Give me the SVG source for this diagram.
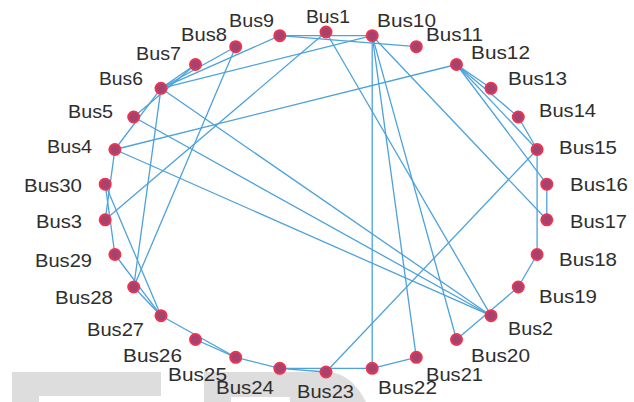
<svg xmlns="http://www.w3.org/2000/svg" width="634" height="402" viewBox="0 0 634 402">
  <style>
    .bg { fill: #ffffff; }
    .panel { fill: #dddddd; }
    .edge { stroke: #4da2da; stroke-width: 1.3; fill: none; }
    .node circle { fill: #a4446e; stroke: #ec3452; stroke-width: 2; }
    .node text { font-family: "Liberation Sans", Arial, sans-serif; font-size: 18.5px; fill: #2e2e2e; }
  </style>

  <rect class="bg" x="0" y="0" width="634" height="402"/>

  <!-- light grey panels along the bottom edge -->
  <path class="panel" d="M12,372 H161 V396 H39 V402 H12 Z"/>
  <path class="panel" d="M204,372 H326 C344,372 357,384 366,402 H290 V397 H231 V402 H204 Z"/>

  <!-- branches -->
  <g id="connectors">
    <line class="edge" x1="326" y1="32" x2="491" y2="315.7"/>        <!-- 1-2 -->
    <line class="edge" x1="326" y1="32" x2="105.2" y2="219.8"/>       <!-- 1-3 -->
    <line class="edge" x1="491" y1="315.7" x2="114.9" y2="149.5"/>    <!-- 2-4 -->
    <line class="edge" x1="105.2" y1="219.8" x2="114.9" y2="149.5"/>  <!-- 3-4 -->
    <line class="edge" x1="491" y1="315.7" x2="133.7" y2="117"/>      <!-- 2-5 -->
    <line class="edge" x1="491" y1="315.7" x2="161" y2="88.3"/>       <!-- 2-6 -->
    <line class="edge" x1="114.9" y1="149.5" x2="161" y2="88.3"/>     <!-- 4-6 -->
    <line class="edge" x1="133.7" y1="117" x2="195.5" y2="64.5"/>     <!-- 5-7 -->
    <line class="edge" x1="161" y1="88.3" x2="195.5" y2="64.5"/>      <!-- 6-7 -->
    <line class="edge" x1="161" y1="88.3" x2="235.7" y2="46.7"/>      <!-- 6-8 -->
    <line class="edge" x1="161" y1="88.3" x2="279.8" y2="35.7"/>      <!-- 6-9 -->
    <line class="edge" x1="161" y1="88.3" x2="372.2" y2="35.7"/>      <!-- 6-10 -->
    <line class="edge" x1="279.8" y1="35.7" x2="416.3" y2="46.7"/>    <!-- 9-11 -->
    <line class="edge" x1="279.8" y1="35.7" x2="372.2" y2="35.7"/>    <!-- 9-10 -->
    <line class="edge" x1="114.9" y1="149.5" x2="456.5" y2="64.5"/>   <!-- 4-12 -->
    <line class="edge" x1="456.5" y1="64.5" x2="491" y2="88.3"/>      <!-- 12-13 -->
    <line class="edge" x1="456.5" y1="64.5" x2="518.3" y2="117"/>     <!-- 12-14 -->
    <line class="edge" x1="456.5" y1="64.5" x2="537.1" y2="149.5"/>   <!-- 12-15 -->
    <line class="edge" x1="456.5" y1="64.5" x2="546.8" y2="184.2"/>   <!-- 12-16 -->
    <line class="edge" x1="518.3" y1="117" x2="537.1" y2="149.5"/>    <!-- 14-15 -->
    <line class="edge" x1="546.8" y1="184.2" x2="546.8" y2="219.8"/>  <!-- 16-17 -->
    <line class="edge" x1="537.1" y1="149.5" x2="537.1" y2="254.5"/>  <!-- 15-18 -->
    <line class="edge" x1="537.1" y1="254.5" x2="518.3" y2="287"/>    <!-- 18-19 -->
    <line class="edge" x1="518.3" y1="287" x2="456.5" y2="339.5"/>    <!-- 19-20 -->
    <line class="edge" x1="372.2" y1="35.7" x2="456.5" y2="339.5"/>   <!-- 10-20 -->
    <line class="edge" x1="372.2" y1="35.7" x2="546.8" y2="219.8"/>   <!-- 10-17 -->
    <line class="edge" x1="372.2" y1="35.7" x2="416.3" y2="357.3"/>   <!-- 10-21 -->
    <line class="edge" x1="372.2" y1="35.7" x2="372.2" y2="368.3"/>   <!-- 10-22 -->
    <line class="edge" x1="416.3" y1="357.3" x2="372.2" y2="368.3"/>  <!-- 21-22 -->
    <line class="edge" x1="537.1" y1="149.5" x2="326" y2="372"/>      <!-- 15-23 -->
    <line class="edge" x1="372.2" y1="368.3" x2="279.8" y2="368.3"/>  <!-- 22-24 -->
    <line class="edge" x1="326" y1="372" x2="279.8" y2="368.3"/>      <!-- 23-24 -->
    <line class="edge" x1="279.8" y1="368.3" x2="235.7" y2="357.3"/>  <!-- 24-25 -->
    <line class="edge" x1="235.7" y1="357.3" x2="195.5" y2="339.5"/>  <!-- 25-26 -->
    <line class="edge" x1="235.7" y1="357.3" x2="161" y2="315.7"/>    <!-- 25-27 -->
    <line class="edge" x1="133.7" y1="287" x2="161" y2="315.7"/>      <!-- 28-27 -->
    <line class="edge" x1="161" y1="315.7" x2="114.9" y2="254.5"/>    <!-- 27-29 -->
    <line class="edge" x1="161" y1="315.7" x2="105.2" y2="184.2"/>    <!-- 27-30 -->
    <line class="edge" x1="114.9" y1="254.5" x2="105.2" y2="184.2"/>  <!-- 29-30 -->
    <line class="edge" x1="235.7" y1="46.7" x2="133.7" y2="287"/>     <!-- 8-28 -->
    <line class="edge" x1="161" y1="88.3" x2="133.7" y2="287"/>       <!-- 6-28 -->
  </g>

  <!-- buses -->
  <g id="bus1" class="node"><circle cx="326" cy="32" r="5.5"/><text x="306" y="23" textLength="44" lengthAdjust="spacingAndGlyphs">Bus1</text></g>
  <g id="bus10" class="node"><circle cx="372.2" cy="35.7" r="5.5"/><text x="377" y="27" textLength="59" lengthAdjust="spacingAndGlyphs">Bus10</text></g>
  <g id="bus11" class="node"><circle cx="416.3" cy="46.7" r="5.5"/><text x="426" y="41" textLength="57" lengthAdjust="spacingAndGlyphs">Bus11</text></g>
  <g id="bus12" class="node"><circle cx="456.5" cy="64.5" r="5.5"/><text x="471" y="59" textLength="59" lengthAdjust="spacingAndGlyphs">Bus12</text></g>
  <g id="bus13" class="node"><circle cx="491" cy="88.3" r="5.5"/><text x="508" y="85" textLength="59" lengthAdjust="spacingAndGlyphs">Bus13</text></g>
  <g id="bus14" class="node"><circle cx="518.3" cy="117" r="5.5"/><text x="539" y="117" textLength="57" lengthAdjust="spacingAndGlyphs">Bus14</text></g>
  <g id="bus15" class="node"><circle cx="537.1" cy="149.5" r="5.5"/><text x="559" y="154" textLength="58" lengthAdjust="spacingAndGlyphs">Bus15</text></g>
  <g id="bus16" class="node"><circle cx="546.8" cy="184.2" r="5.5"/><text x="570" y="191" textLength="58" lengthAdjust="spacingAndGlyphs">Bus16</text></g>
  <g id="bus17" class="node"><circle cx="546.8" cy="219.8" r="5.5"/><text x="570" y="228" textLength="57" lengthAdjust="spacingAndGlyphs">Bus17</text></g>
  <g id="bus18" class="node"><circle cx="537.1" cy="254.5" r="5.5"/><text x="559" y="266" textLength="58" lengthAdjust="spacingAndGlyphs">Bus18</text></g>
  <g id="bus19" class="node"><circle cx="518.3" cy="287" r="5.5"/><text x="539" y="303" textLength="58" lengthAdjust="spacingAndGlyphs">Bus19</text></g>
  <g id="bus2" class="node"><circle cx="491" cy="315.7" r="5.5"/><text x="508" y="335" textLength="45" lengthAdjust="spacingAndGlyphs">Bus2</text></g>
  <g id="bus20" class="node"><circle cx="456.5" cy="339.5" r="5.5"/><text x="471" y="362" textLength="59" lengthAdjust="spacingAndGlyphs">Bus20</text></g>
  <g id="bus21" class="node"><circle cx="416.3" cy="357.3" r="5.5"/><text x="426" y="381" textLength="57" lengthAdjust="spacingAndGlyphs">Bus21</text></g>
  <g id="bus22" class="node"><circle cx="372.2" cy="368.3" r="5.5"/><text x="378" y="394" textLength="59" lengthAdjust="spacingAndGlyphs">Bus22</text></g>
  <g id="bus23" class="node"><circle cx="326" cy="372" r="5.5"/><text x="297" y="398" textLength="57" lengthAdjust="spacingAndGlyphs">Bus23</text></g>
  <g id="bus24" class="node"><circle cx="279.8" cy="368.3" r="5.5"/><text x="216" y="394" textLength="58" lengthAdjust="spacingAndGlyphs">Bus24</text></g>
  <g id="bus25" class="node"><circle cx="235.7" cy="357.3" r="5.5"/><text x="168" y="381" textLength="59" lengthAdjust="spacingAndGlyphs">Bus25</text></g>
  <g id="bus26" class="node"><circle cx="195.5" cy="339.5" r="5.5"/><text x="123" y="362" textLength="59" lengthAdjust="spacingAndGlyphs">Bus26</text></g>
  <g id="bus27" class="node"><circle cx="161" cy="315.7" r="5.5"/><text x="87" y="336" textLength="57" lengthAdjust="spacingAndGlyphs">Bus27</text></g>
  <g id="bus28" class="node"><circle cx="133.7" cy="287" r="5.5"/><text x="55" y="304" textLength="58" lengthAdjust="spacingAndGlyphs">Bus28</text></g>
  <g id="bus29" class="node"><circle cx="114.9" cy="254.5" r="5.5"/><text x="35" y="267" textLength="57" lengthAdjust="spacingAndGlyphs">Bus29</text></g>
  <g id="bus3" class="node"><circle cx="105.2" cy="219.8" r="5.5"/><text x="36" y="228" textLength="46" lengthAdjust="spacingAndGlyphs">Bus3</text></g>
  <g id="bus30" class="node"><circle cx="105.2" cy="184.2" r="5.5"/><text x="24" y="192" textLength="58" lengthAdjust="spacingAndGlyphs">Bus30</text></g>
  <g id="bus4" class="node"><circle cx="114.9" cy="149.5" r="5.5"/><text x="47" y="153" textLength="45" lengthAdjust="spacingAndGlyphs">Bus4</text></g>
  <g id="bus5" class="node"><circle cx="133.7" cy="117" r="5.5"/><text x="68" y="118" textLength="45" lengthAdjust="spacingAndGlyphs">Bus5</text></g>
  <g id="bus6" class="node"><circle cx="161" cy="88.3" r="5.5"/><text x="99" y="85" textLength="44" lengthAdjust="spacingAndGlyphs">Bus6</text></g>
  <g id="bus7" class="node"><circle cx="195.5" cy="64.5" r="5.5"/><text x="136" y="60" textLength="45" lengthAdjust="spacingAndGlyphs">Bus7</text></g>
  <g id="bus8" class="node"><circle cx="235.7" cy="46.7" r="5.5"/><text x="181" y="41" textLength="46" lengthAdjust="spacingAndGlyphs">Bus8</text></g>
  <g id="bus9" class="node"><circle cx="279.8" cy="35.7" r="5.5"/><text x="229" y="27" textLength="45" lengthAdjust="spacingAndGlyphs">Bus9</text></g>
</svg>
